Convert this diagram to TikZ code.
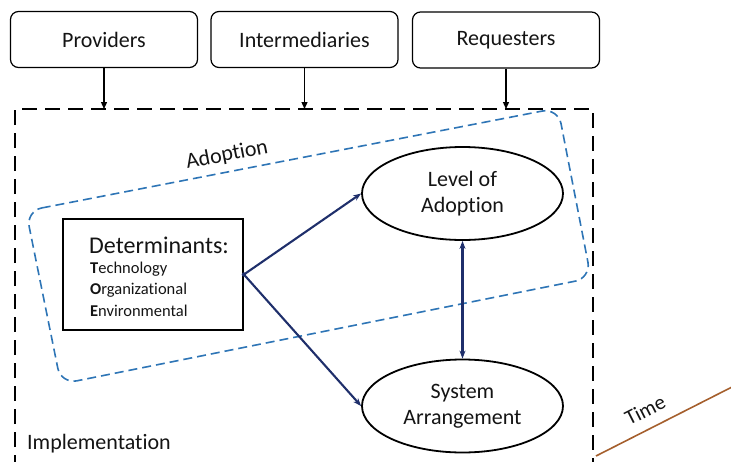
\documentclass[tikz,border=0pt]{standalone}
\usepackage{fontspec}
\setmainfont{Carlito}[Ligatures=NoCommon]
\usetikzlibrary{shapes.geometric,arrows.meta}
\definecolor{navy}{RGB}{31,47,107}
\definecolor{adoptblue}{RGB}{46,117,182}
\definecolor{timebrown}{RGB}{165,95,45}
\definecolor{txt}{RGB}{20,20,20}
\tikzset{
  actor/.style={draw, line width=1.2pt, rounded corners=8pt, minimum width=187pt, minimum height=56pt, inner sep=0pt, font=\fontsize{22}{26}\selectfont, text=txt},
  oval/.style={draw, ellipse, line width=1.8pt, minimum width=201pt, minimum height=93pt, inner sep=0pt, align=center, font=\fontsize{22}{26}\selectfont, text=txt},
  detbox/.style={draw, line width=1.8pt, minimum width=180pt, minimum height=111pt, inner sep=0pt},
  feed/.style={-{Triangle[length=7pt,width=6pt]}, line width=1.3pt},
  link/.style={-{Stealth[length=8pt,width=6pt]}, line width=2.1pt, draw=navy},
  frame/.style={line width=2.2pt, dash pattern=on 15pt off 8pt},
  adopt/.style={line width=1.6pt, draw=adoptblue, dash pattern=on 9pt off 5pt, rounded corners=16pt},
  lbl/.style={font=\fontsize{22}{26}\selectfont, text=txt, inner sep=0pt}
}
\begin{document}
\begin{tikzpicture}[x=1pt,y=-1pt]
\useasboundingbox (0,0) rectangle (731,461);
\clip (0,0) rectangle (731,461);
% actors
\node[actor] (prov) at (104,39.5) {Providers};
\node[actor] (inter) at (304.5,39.5) {Intermediaries};
\node[actor] (req) at (506,40) {Requesters};
% implementation frame
\coordinate (fbl) at (15,470);
\coordinate (ftl) at (15,109);
\coordinate (ftr) at (593,109);
\coordinate (fbr) at (593,470);
\draw[frame] (fbl) -- (ftl) -- (ftr) -- (fbr);
\draw[feed] (prov.south) -- (prov.south |- ftl);
\draw[feed] (inter.south) -- (inter.south |- ftl);
\draw[feed] (req.south) -- (req.south |- ftl);
% adoption region
\coordinate (a1) at (26,211);
\coordinate (a2) at (558,108);
\coordinate (a3) at (591,278);
\coordinate (a4) at (61,384);
\draw[adopt] (a1) -- (a2) -- (a3) -- (a4) -- cycle;
\node[lbl, rotate=11] (adl) at (227,155) {Adoption};
% determinants
\node[detbox] (det) at (153,274.5) {};
\node[lbl, font=\fontsize{24}{28}\selectfont, anchor=west] (dett) at (89,245) {Determinants:};
\node[lbl, font=\fontsize{16.5}{20}\selectfont, anchor=west] (tech) at (90,269) {\textbf{T}echnology};
\node[lbl, font=\fontsize{16.5}{20}\selectfont, anchor=west] (org) at (90,290) {\textbf{O}rganizational};
\node[lbl, font=\fontsize{16.5}{20}\selectfont, anchor=west] (env) at (90,311) {\textbf{E}nvironmental};
\coordinate (jn) at (det.east);
\fill[navy] (jn) circle (2.2pt);
% outcomes
\node[oval] (lev) at (462.5,193.5) {Level of\\Adoption};
\node[oval] (sys) at (462.5,406) {System\\Arrangement};
\draw[link] (jn) -- (lev.west);
\draw[link] (jn) -- (sys.west);
\draw[link, {Stealth[length=8pt,width=6pt]}-{Stealth[length=8pt,width=6pt]}] (lev.south) -- (sys.north);
% implementation label
\node[lbl, anchor=west] (impl) at (27,444) {Implementation};
% time
\coordinate (t0) at (596,456);
\coordinate (t1) at (732,387);
\draw[timebrown, line width=1.6pt] (t0) -- (t1);
\node[lbl, font=\fontsize{21}{25}\selectfont, rotate=27] (time) at (645,410) {Time};
\end{tikzpicture}
\end{document}
